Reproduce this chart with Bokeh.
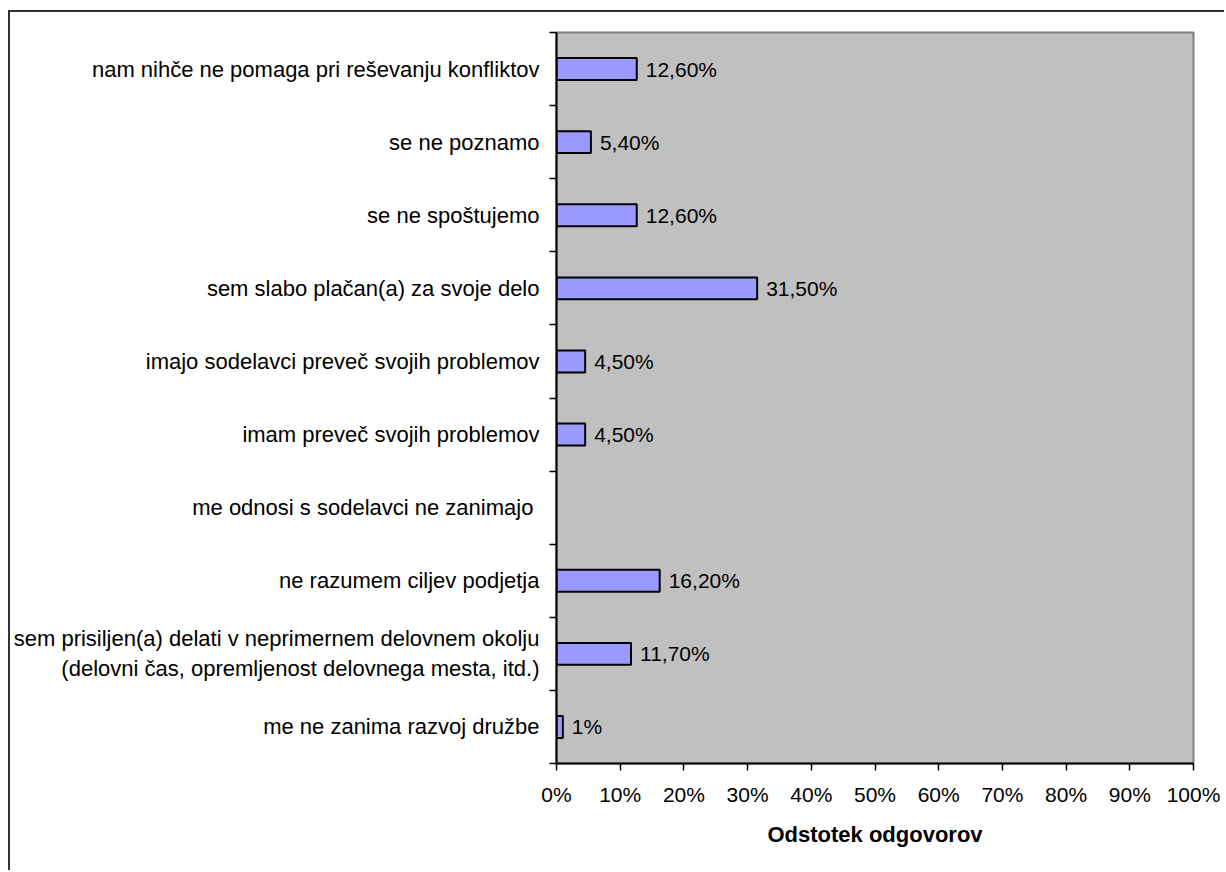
from bokeh.plotting import figure
from bokeh.models import (ColumnDataSource, Range1d, LinearAxis, FixedTicker)
from bokeh.core.properties import value
from bokeh.embed import file_html
from bokeh.resources import INLINE

# ---- data ----
categories = [
    "nam nihče ne pomaga pri reševanju konfliktov",
    "se ne poznamo",
    "se ne spoštujemo",
    "sem slabo plačan(a) za svoje delo",
    "imajo sodelavci preveč svojih problemov",
    "imam preveč svojih problemov",
    "me odnosi s sodelavci  ne zanimajo",
    "ne razumem ciljev podjetja",
    "sem prisiljen(a) delati v neprimernem delovnem okolju\n(delovni čas, opremljenost delovnega mesta, itd.)",
    "me ne zanima razvoj družbe",
]
percent_values = [12.6, 5.4, 12.6, 31.5, 4.5, 4.5, None, 16.2, 11.7, 1.0]
value_labels = ["12,60%", "5,40%", "12,60%", "31,50%", "4,50%", "4,50%", "", "16,20%", "11,70%", "1%"]
x_tick_values = [0, 10, 20, 30, 40, 50, 60, 70, 80, 90, 100]
x_tick_labels = ["0%", "10%", "20%", "30%", "40%", "50%", "60%", "70%", "80%", "90%", "100%"]
x_axis_title = "Odstotek odgovorov"

FONT = "Liberation Sans"
FS_CAT = "22px"
FS_NUM = "21px"

n = len(categories)
# category slot positions: first category at the top
cat_pos = [n - i - 0.5 for i in range(n)]
cat_bounds = list(range(n + 1))

pos_b = [y for y, v in zip(cat_pos, percent_values) if v is not None]
vals_b = [v for v in percent_values if v is not None]
labs_b = [l for l, v in zip(value_labels, percent_values) if v is not None]
src = ColumnDataSource(dict(y=pos_b, val=vals_b, lab=labs_b))

OFF_X, OFF_Y = 8, 10   # position of the outer chart border on the page
p = figure(width=1226 - OFF_X - 2, height=872 - OFF_Y - 2,
           output_backend="svg", toolbar_location=None,
           x_range=Range1d(0, 100), y_range=Range1d(0, n),
           y_axis_location=None, x_axis_location=None,
           min_border_left=556 - OFF_X - 2, min_border_right=33,
           min_border_top=32 - OFF_Y - 2, min_border_bottom=109)
p.margin = (OFF_Y, 0, 0, OFF_X)
p.styles = {"border-left": "2px solid #333333", "border-top": "2px solid #333333"}
p.background_fill_color = "#C0C0C0"
p.border_fill_color = "white"
p.outline_line_color = "#808080"
p.outline_line_width = 2
p.xgrid.visible = False
p.ygrid.visible = False

p.hbar(y="y", right="val", left=0, height=0.3, source=src,
       fill_color="#9999FF", line_color="black", line_width=2)
p.text(x="val", y="y", text="lab", source=src, x_offset=9,
       text_font=value(FONT), text_font_size=FS_NUM, text_baseline="middle",
       text_align="left", text_color="black")

# y axis: category names at slot centres, tick marks at slot boundaries
yaxis = LinearAxis(ticker=FixedTicker(ticks=cat_pos, minor_ticks=cat_bounds))
yaxis.major_label_overrides = {y: c for y, c in zip(cat_pos, categories)}
yaxis.major_tick_line_color = None
yaxis.major_tick_out = 0
yaxis.major_tick_in = 0
yaxis.minor_tick_out = 7
yaxis.minor_tick_in = 0
yaxis.minor_tick_line_color = "black"
yaxis.minor_tick_line_width = 1.5
yaxis.axis_line_color = "black"
yaxis.axis_line_width = 2
yaxis.major_label_standoff = 10
yaxis.major_label_text_font = FONT
yaxis.major_label_text_font_size = FS_CAT
yaxis.major_label_text_color = "black"
p.add_layout(yaxis, "left")

# x axis
xaxis = LinearAxis(ticker=FixedTicker(ticks=x_tick_values, minor_ticks=[]))
xaxis.major_label_overrides = {v: l for v, l in zip(x_tick_values, x_tick_labels)}
xaxis.major_tick_out = 7
xaxis.major_tick_in = 0
xaxis.minor_tick_out = 0
xaxis.minor_tick_in = 0
xaxis.axis_line_color = "black"
xaxis.axis_line_width = 2
xaxis.major_tick_line_color = "black"
xaxis.major_tick_line_width = 1.5
xaxis.major_label_standoff = 12
xaxis.major_label_text_font = FONT
xaxis.major_label_text_font_size = FS_NUM
xaxis.major_label_text_color = "black"
xaxis.axis_label = x_axis_title
xaxis.axis_label_text_font = FONT
xaxis.axis_label_text_font_size = FS_CAT
xaxis.axis_label_text_font_style = "bold"
xaxis.axis_label_text_color = "black"
xaxis.axis_label_standoff = 13
p.add_layout(xaxis, "below")

open("out.html", "w").write(file_html(p, INLINE))
